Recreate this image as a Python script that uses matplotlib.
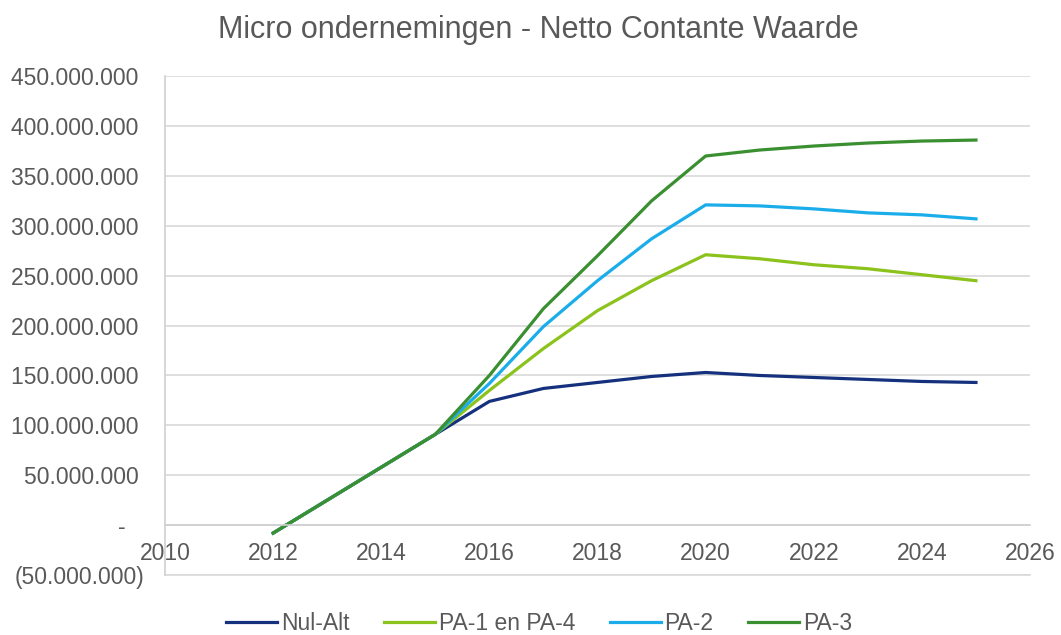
import numpy as np
import matplotlib.pyplot as plt
from matplotlib.ticker import FuncFormatter, MultipleLocator

plt.rcParams['font.family'] = ['Liberation Sans', 'DejaVu Sans']

years = np.arange(2012, 2026)
nul_alt = np.array([-8, 25, 58, 91, 124, 137, 143, 149, 153, 150, 148, 146, 144, 143]) * 1e6
pa1_pa4 = np.array([-8, 25, 58, 91, 135, 177, 215, 245, 271, 267, 261, 257, 251, 245]) * 1e6
pa2 = np.array([-8, 25, 58, 91, 142, 199, 245, 287, 321, 320, 317, 313, 311, 307]) * 1e6
pa3 = np.array([-8, 25, 58, 91, 150, 217, 270, 325, 370, 376, 380, 383, 385, 386]) * 1e6

series = [('Nul-Alt', nul_alt, '#15317e'),
          ('PA-1 en PA-4', pa1_pa4, '#8cc21c'),
          ('PA-2', pa2, '#1badea'),
          ('PA-3', pa3, '#3a8f30')]

grey = '#595959'

# Excel-style accounting format: dash for zero, negatives in brackets
def fmt(v, pos):
    if abs(v) < 1:
        return '-   '
    s = f"{abs(v):,.0f}".replace(',', '.')
    return f"({s})" if v < 0 else s + ' '

fig = plt.figure(figsize=(10.61, 6.35), dpi=100)
ax = fig.add_axes([0.1555, 0.0945, 0.8153, 0.7855])

for name, vals, col in series:
    ax.plot(years, vals, color=col, lw=2.3, label=name)

ax.set_xlim(2010, 2026)
ax.set_ylim(-50e6, 450e6)
ax.xaxis.set_major_locator(MultipleLocator(2))
ax.yaxis.set_major_locator(MultipleLocator(50e6))
ax.yaxis.set_major_formatter(FuncFormatter(fmt))

ax.grid(axis='y', color='#d9d9d9', lw=1.2)
ax.axhline(-50e6, color='#d9d9d9', lw=1.2, clip_on=False, zorder=0)
ax.set_axisbelow(True)
for s in ['top', 'right']:
    ax.spines[s].set_visible(False)
ax.spines['left'].set_color('#d0d0d0')
ax.spines['left'].set_linewidth(1.2)
ax.spines['bottom'].set_position(('data', 0))
ax.spines['bottom'].set_color('#d0d0d0')
ax.spines['bottom'].set_linewidth(1.2)
ax.tick_params(axis='both', length=0, colors=grey, labelsize=16.5)
ax.tick_params(axis='y', pad=14.5)
ax.tick_params(axis='x', pad=12)

fig.text(0.507, 0.953, 'Micro ondernemingen - Netto Contante Waarde',
         ha='center', va='center', fontsize=22, color=grey)

fig.legend(loc='center', bbox_to_anchor=(0.508, 0.018), ncol=4, frameon=False,
           fontsize=16.5, labelcolor=grey, handlelength=2.25, handletextpad=0.15,
           columnspacing=1.5)

fig.savefig('out.png', dpi=100)
